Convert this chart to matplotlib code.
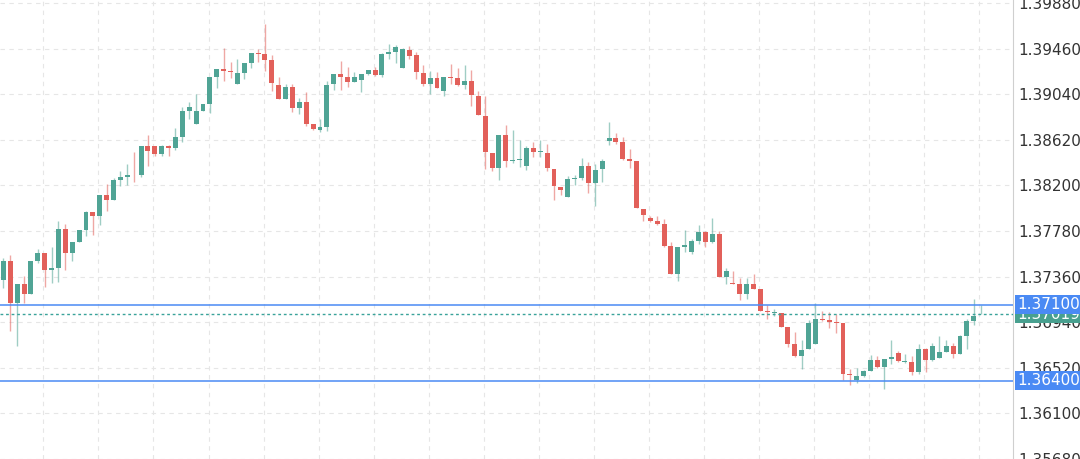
import matplotlib
matplotlib.use("Agg")
import matplotlib.pyplot as plt
from matplotlib.ticker import FormatStrFormatter
import numpy as np

opens = [1.37332,1.37506,1.37113,1.37296,1.37204,1.37506,1.37579,1.37424,1.37442,1.37798,
1.37579,1.37679,1.37789,1.37953,1.37917,1.38108,1.38063,1.38245,1.38273,1.38300,
1.38291,1.38565,1.38565,1.38492,1.38565,1.38547,1.38647,1.38884,1.38766,1.38884,
1.38948,1.39195,1.39268,1.39250,1.39131,1.39231,1.39323,1.39423,1.39414,1.39359,
1.39122,1.38994,1.39104,1.38912,1.38967,1.38766,1.38711,1.38738,1.39131,1.39222,
1.39195,1.39149,1.39168,1.39222,1.39259,1.39213,1.39414,1.39432,1.39277,1.39451,
1.39396,1.39231,1.39131,1.39186,1.39067,1.39195,1.39186,1.39122,1.39158,1.39021,
1.38839,1.38501,1.38364,1.38665,1.38428,1.38437,1.38382,1.38547,1.38505,1.38501,
1.38355,1.38181,1.38090,1.38260,1.38264,1.38382,1.38218,1.38355,1.38610,1.38638,
1.38601,1.38446,1.38428,1.37981,1.37898,1.37871,1.37844,1.37643,1.37387,1.37634,
1.37588,1.37689,1.37771,1.37679,1.37752,1.37360,1.37305,1.37296,1.37195,1.37296,
1.37241,1.37040,1.37026,1.37022,1.36894,1.36739,1.36629,1.36693,1.36739,1.36967,
1.36958,1.36940,1.36931,1.36465,1.36410,1.36447,1.36492,1.36593,1.36529,1.36602,
1.36657,1.36575,1.36575,1.36483,1.36693,1.36593,1.36611,1.36666,1.36721,1.36648,
1.36812,1.36949,1.37013]
highs = [1.37533,1.37561,1.37296,1.37369,1.37506,1.37616,1.37579,1.37634,1.37871,1.37844,
1.37679,1.37789,1.37962,1.37953,1.38108,1.38209,1.38264,1.38328,1.38401,1.38510,
1.38565,1.38665,1.38565,1.38574,1.38574,1.38729,1.38921,1.38967,1.39040,1.38948,
1.39195,1.39268,1.39469,1.39332,1.39368,1.39323,1.39423,1.39460,1.39688,1.39405,
1.39195,1.39131,1.39131,1.39003,1.39058,1.38766,1.38811,1.39158,1.39222,1.39341,
1.39286,1.39241,1.39222,1.39259,1.39286,1.39423,1.39505,1.39496,1.39469,1.39487,
1.39432,1.39304,1.39250,1.39241,1.39195,1.39314,1.39277,1.39304,1.39259,1.39067,
1.39021,1.38501,1.38665,1.38757,1.38711,1.38620,1.38565,1.38601,1.38620,1.38583,
1.38355,1.38181,1.38282,1.38291,1.38455,1.38419,1.38401,1.38446,1.38784,1.38684,
1.38647,1.38538,1.38428,1.37981,1.37917,1.37917,1.37889,1.37679,1.37634,1.37789,
1.37707,1.37834,1.37780,1.37898,1.37780,1.37442,1.37415,1.37351,1.37351,1.37387,
1.37241,1.37095,1.37058,1.37022,1.36894,1.36848,1.36776,1.36958,1.37113,1.37040,
1.37031,1.37013,1.36931,1.36511,1.36520,1.36501,1.36638,1.36629,1.36602,1.36776,
1.36675,1.36648,1.36629,1.36739,1.36702,1.36748,1.36812,1.36776,1.36748,1.36821,
1.36967,1.37150,1.37095]
lows = [1.37259,1.36858,1.36721,1.37113,1.37195,1.37488,1.37268,1.37305,1.37314,1.37424,
1.37506,1.37679,1.37734,1.37743,1.37834,1.37962,1.38063,1.38191,1.38200,1.38227,
1.38273,1.38382,1.38474,1.38474,1.38474,1.38528,1.38601,1.38811,1.38766,1.38884,
1.38866,1.39094,1.39158,1.39186,1.39131,1.39177,1.39277,1.39332,1.39250,1.39067,
1.38994,1.38994,1.38875,1.38857,1.38748,1.38711,1.38693,1.38702,1.39076,1.39076,
1.39104,1.39149,1.39058,1.39213,1.39204,1.39195,1.39368,1.39323,1.39277,1.39368,
1.39177,1.39113,1.39040,1.39094,1.39021,1.39131,1.39113,1.39085,1.38930,1.38848,
1.38355,1.38328,1.38245,1.38373,1.38410,1.38373,1.38346,1.38464,1.38464,1.38328,
1.38063,1.38108,1.38090,1.38200,1.38245,1.38127,1.38008,1.38227,1.38574,1.38583,
1.38437,1.38364,1.37990,1.37871,1.37862,1.37834,1.37634,1.37387,1.37323,1.37588,
1.37570,1.37661,1.37634,1.37670,1.37360,1.37287,1.37287,1.37141,1.37150,1.37241,
1.37040,1.36967,1.36994,1.36894,1.36712,1.36620,1.36511,1.36693,1.36739,1.36949,
1.36885,1.36839,1.36410,1.36365,1.36383,1.36438,1.36492,1.36520,1.36328,1.36556,
1.36575,1.36566,1.36456,1.36465,1.36483,1.36584,1.36611,1.36666,1.36611,1.36648,
1.36693,1.36912,1.37013]
closes = [1.37506,1.37113,1.37296,1.37204,1.37506,1.37579,1.37424,1.37442,1.37798,1.37579,
1.37679,1.37789,1.37953,1.37917,1.38108,1.38063,1.38245,1.38273,1.38300,1.38291,
1.38565,1.38519,1.38492,1.38565,1.38547,1.38647,1.38884,1.38921,1.38884,1.38948,
1.39195,1.39268,1.39250,1.39241,1.39231,1.39323,1.39423,1.39414,1.39359,1.39140,
1.38994,1.39104,1.38912,1.38967,1.38766,1.38720,1.38738,1.39122,1.39222,1.39195,
1.39149,1.39195,1.39222,1.39259,1.39213,1.39414,1.39432,1.39478,1.39460,1.39387,
1.39241,1.39131,1.39186,1.39094,1.39195,1.39186,1.39122,1.39158,1.39031,1.38848,
1.38510,1.38364,1.38665,1.38428,1.38437,1.38446,1.38547,1.38510,1.38515,1.38364,
1.38191,1.38154,1.38254,1.38268,1.38382,1.38218,1.38346,1.38428,1.38638,1.38601,
1.38446,1.38428,1.37990,1.37926,1.37871,1.37844,1.37643,1.37387,1.37634,1.37652,
1.37689,1.37771,1.37679,1.37752,1.37360,1.37415,1.37296,1.37195,1.37296,1.37241,
1.37040,1.37031,1.37036,1.36894,1.36739,1.36629,1.36684,1.36931,1.36967,1.36958,
1.36940,1.36931,1.36465,1.36456,1.36447,1.36492,1.36593,1.36529,1.36602,1.36620,
1.36584,1.36584,1.36483,1.36693,1.36593,1.36721,1.36666,1.36721,1.36648,1.36812,
1.36949,1.36994,1.37019]

yticks = [1.35680,1.36100,1.36520,1.36940,1.37360,1.37780,1.38200,1.38620,1.39040,1.39460,1.39880]
resistance = 1.37100
support = 1.36400
last_price = 1.37019

GREEN = "#50a495"
RED = "#e2605a"
BLUE = "#4a8af4"

fig = plt.figure(figsize=(10.8, 4.59), dpi=100)
ax = fig.add_axes([0, 0, 1013/1080, 1])
x = np.arange(len(opens))
o = np.array(opens); c = np.array(closes); h = np.array(highs); l = np.array(lows)
up = c >= o
cols = np.where(up, GREEN, RED)
ax.vlines(x, l, h, colors=cols, linewidth=1.0, alpha=0.55, zorder=3)
ax.bar(x, np.maximum(np.abs(c - o), 0.000025), bottom=np.minimum(o, c), width=0.72,
       color=cols, zorder=4, linewidth=0)

ax.set_ylim(1.35716, 1.39907)
ax.set_xlim(-0.5, 146.7)
ax.set_yticks(yticks)
ax.yaxis.set_major_formatter(FormatStrFormatter("%.5f"))
ax.set_xticks(np.arange(5.8, 147, 8))
ax.grid(True, color="#e6e6e6", linestyle=(0, (4, 4)), linewidth=0.8, zorder=0)
for s in ["top", "left", "bottom"]:
    ax.spines[s].set_visible(False)
ax.spines["right"].set_color("#cfcfcf")
ax.tick_params(axis="x", length=0, labelbottom=False)
ax.tick_params(axis="y", length=0, labelleft=False, labelright=True, labelsize=11,
               labelcolor="#333333", pad=4)

ax.axhline(resistance, color=BLUE, linewidth=1.1, zorder=5)
ax.axhline(support, color=BLUE, linewidth=1.1, zorder=5)
ax.axhline(last_price, color="#3aa39a", linewidth=1.0, linestyle=(0, (2, 2)), zorder=5)

tr = ax.get_yaxis_transform()
def tag(y, txt, col):
    ax.text(1.0 + 4/1013, y, txt, transform=tr, ha="left", va="center", fontsize=11,
            color="white", zorder=10, clip_on=False,
            bbox=dict(boxstyle="square,pad=0.12", fc=col, ec="none"))
tag(last_price - 0.00005, f"{last_price:.5f}", "#48a08f")
tag(resistance, f"{resistance:.5f}", BLUE)
tag(support, f"{support:.5f}", BLUE)

fig.savefig("out.png", dpi=100)
